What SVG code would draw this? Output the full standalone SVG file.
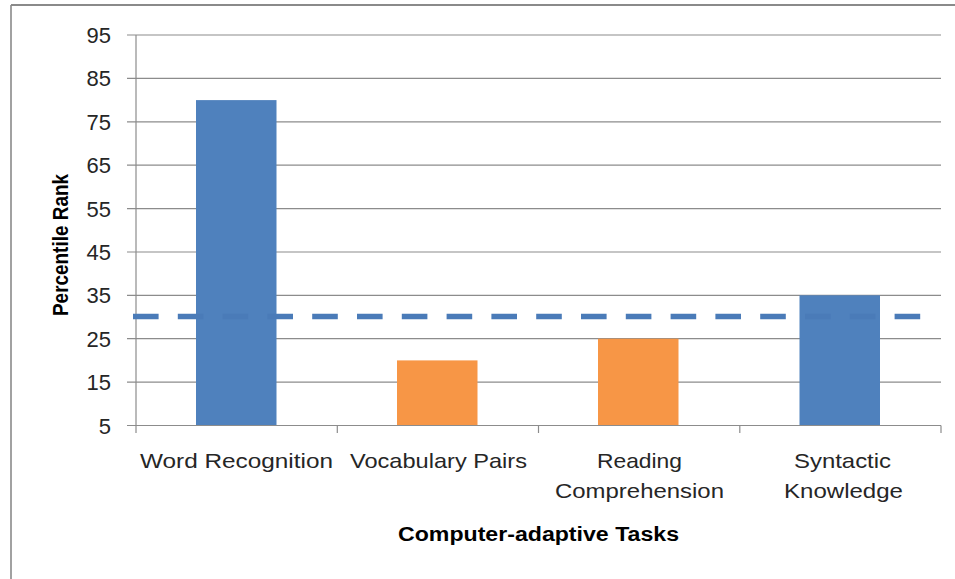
<svg xmlns="http://www.w3.org/2000/svg" width="955" height="579" viewBox="0 0 955 579">
<style>
.grid{stroke:#8c8c8c;stroke-width:1.2;fill:none}
.axis{stroke:#8c8c8c;stroke-width:1.2;fill:none}
.tick{font-family:"Liberation Sans",Arial,sans-serif;font-size:22px;fill:#262626;text-anchor:end}
.cat{font-family:"Liberation Sans",Arial,sans-serif;font-size:21px;fill:#262626}
.title{font-family:"Liberation Sans",Arial,sans-serif;font-size:20px;font-weight:bold;fill:#000}
.blue{fill:#4f81bd}
.orange{fill:#f79646}
</style>
<rect x="0" y="0" width="955" height="579" fill="#fff"/>
<g id="frame">
<line x1="11" y1="5" x2="955" y2="5" stroke="#8a8a8a" stroke-width="2.2"/>
<line x1="11" y1="5" x2="11" y2="579" stroke="#8a8a8a" stroke-width="1.6"/>
</g>
<g id="gridlines">
<line class="grid" x1="127" y1="35" x2="941" y2="35"/>
<line class="grid" x1="127" y1="78.4" x2="941" y2="78.4"/>
<line class="grid" x1="127" y1="121.8" x2="941" y2="121.8"/>
<line class="grid" x1="127" y1="165.2" x2="941" y2="165.2"/>
<line class="grid" x1="127" y1="208.6" x2="941" y2="208.6"/>
<line class="grid" x1="127" y1="252" x2="941" y2="252"/>
<line class="grid" x1="127" y1="295.3" x2="941" y2="295.3"/>
<line class="grid" x1="127" y1="338.7" x2="941" y2="338.7"/>
<line class="grid" x1="127" y1="382.1" x2="941" y2="382.1"/>
</g>
<g id="y-labels">
<text class="tick" x="111" y="43">95</text>
<text class="tick" x="111" y="86.4">85</text>
<text class="tick" x="111" y="129.8">75</text>
<text class="tick" x="111" y="173.2">65</text>
<text class="tick" x="111" y="216.6">55</text>
<text class="tick" x="111" y="260">45</text>
<text class="tick" x="111" y="303.3">35</text>
<text class="tick" x="111" y="346.7">25</text>
<text class="tick" x="111" y="390.1">15</text>
<text class="tick" x="111" y="433.5">5</text>
</g>
<g id="bar-word-recognition"><rect class="blue" x="196" y="100.1" width="80.5" height="325.4"/></g>
<g id="bar-vocabulary-pairs"><rect class="orange" x="397" y="360.4" width="80.5" height="65.1"/></g>
<g id="bar-reading-comprehension"><rect class="orange" x="598" y="338.7" width="80.5" height="86.8"/></g>
<g id="bar-syntactic-knowledge"><rect class="blue" x="799.5" y="295.3" width="80.5" height="130.2"/></g>
<g id="axes">
<line class="axis" x1="136" y1="35" x2="136" y2="425.5"/>
<line class="axis" x1="127" y1="425.5" x2="941" y2="425.5"/>
<line class="axis" x1="136" y1="425.5" x2="136" y2="433"/>
<line class="axis" x1="337.3" y1="425.5" x2="337.3" y2="433"/>
<line class="axis" x1="538.5" y1="425.5" x2="538.5" y2="433"/>
<line class="axis" x1="739.8" y1="425.5" x2="739.8" y2="433"/>
<line class="axis" x1="941" y1="425.5" x2="941" y2="433"/>
</g>
<g id="threshold-line">
<line x1="133" y1="316.5" x2="922" y2="316.5" stroke="#4a7bb8" stroke-width="5.5" stroke-dasharray="25.6 19.2"/>
</g>
<g id="x-labels">
<text class="cat" x="140" y="467.5" textLength="193" lengthAdjust="spacingAndGlyphs">Word Recognition</text>
<text class="cat" x="350" y="467.5" textLength="177" lengthAdjust="spacingAndGlyphs">Vocabulary Pairs</text>
<text class="cat" x="597" y="467.5" textLength="85" lengthAdjust="spacingAndGlyphs">Reading</text>
<text class="cat" x="555" y="498.3" textLength="169" lengthAdjust="spacingAndGlyphs">Comprehension</text>
<text class="cat" x="794" y="467.5" textLength="97" lengthAdjust="spacingAndGlyphs">Syntactic</text>
<text class="cat" x="784" y="498.3" textLength="119" lengthAdjust="spacingAndGlyphs">Knowledge</text>
</g>
<g id="x-title"><text class="title" x="398" y="540.7" textLength="281" lengthAdjust="spacingAndGlyphs">Computer-adaptive Tasks</text></g>
<g id="y-title"><text class="title" style="font-size:21.5px" transform="translate(67.5,316) rotate(-90)" x="0" y="0" textLength="142" lengthAdjust="spacingAndGlyphs">Percentile Rank</text></g>
</svg>
